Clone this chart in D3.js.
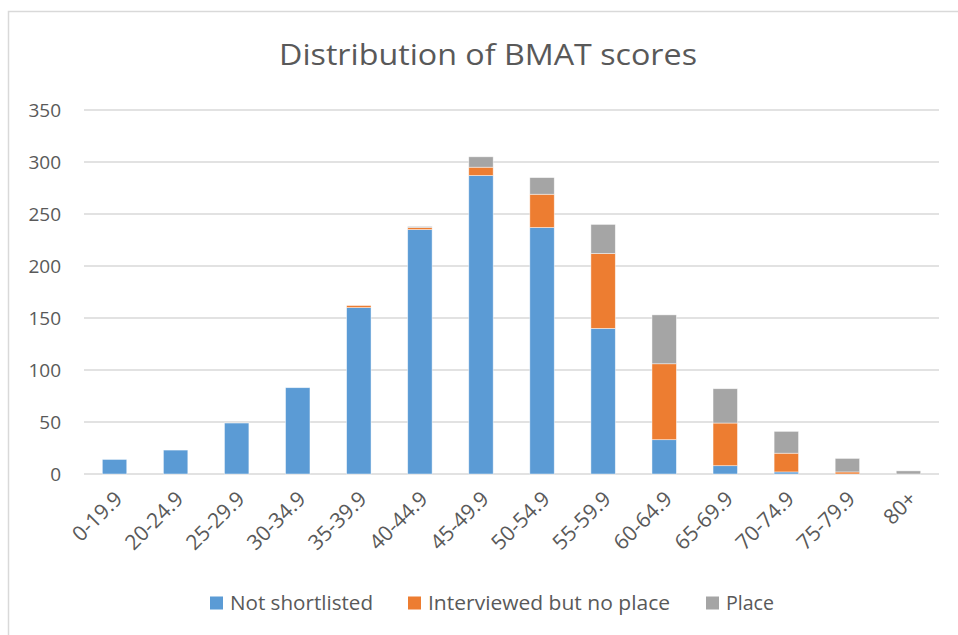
<!DOCTYPE html>
<html>
<head>
<meta charset="utf-8">
<script src="https://cdn.jsdelivr.net/npm/d3@7"></script>
<style>
  body { margin: 0; background: #fff; }
  text { font-family: "Open Sans", "Noto Sans", sans-serif; fill: #595959; }
</style>
</head>
<body>
<svg id="Viz" width="958" height="635"></svg>
<script>
var categories = ["0-19.9", "20-24.9", "25-29.9", "30-34.9", "35-39.9", "40-44.9", "45-49.9",
                  "50-54.9", "55-59.9", "60-64.9", "65-69.9", "70-74.9", "75-79.9", "80+"];
var notShortlisted = [14, 23, 49, 83, 160, 235, 287, 237, 140, 33, 8, 2, 0, 0];
var interviewed    = [0, 0, 0, 0, 2, 2, 8, 32, 72, 73, 41, 18, 2, 0];
var place          = [0, 0, 0, 0, 0, 1, 10, 16, 28, 47, 33, 21, 13, 3];
var seriesNames = ["Not shortlisted", "Interviewed but no place", "Place"];
var yTicks = [0, 50, 100, 150, 200, 250, 300, 350];

var svg = d3.select("#Viz"),
    width = +svg.attr("width"),
    height = +svg.attr("height");

var colors = ["#5B9BD5", "#ED7D31", "#A5A5A5"];
var plotLeft = 84, plotRight = 939, plotTop = 110, plotBottom = 474;

// chart frame (runs off the right/bottom of the page in the original)
svg.append("rect")
  .attr("x", 8.5).attr("y", 11.5)
  .attr("width", 960).attr("height", 640)
  .attr("fill", "none")
  .attr("stroke", "#d9d9d9")
  .attr("stroke-width", 1.5);

svg.append("text")
  .attr("x", 488).attr("y", 65)
  .attr("text-anchor", "middle")
  .attr("font-size", 29)
  .attr("textLength", 418)
  .attr("lengthAdjust", "spacingAndGlyphs")
  .text("Distribution of BMAT scores");

var x = d3.scaleBand()
  .domain(categories)
  .range([plotLeft, plotRight])
  .paddingInner(0.6)
  .paddingOuter(0.3);

var y = d3.scaleLinear()
  .domain([0, 350])
  .range([plotBottom, plotTop]);

// gridlines
svg.append("g")
  .selectAll("line")
  .data(yTicks)
  .enter()
  .append("line")
  .attr("x1", plotLeft).attr("x2", plotRight)
  .attr("y1", function(d) { return y(d); })
  .attr("y2", function(d) { return y(d); })
  .attr("stroke", "#d9d9d9")
  .attr("stroke-width", 1.5);

// y axis labels
var yAxis = svg.append("g")
  .attr("transform", "translate(" + (plotLeft - 16) + ",0)")
  .call(d3.axisLeft(y).tickValues(yTicks).tickSize(0).tickPadding(7));
yAxis.select(".domain").remove();
yAxis.selectAll("text")
  .attr("font-size", 19)
  .attr("font-family", "'Open Sans', sans-serif")
  .attr("fill", "#595959");

// stacked bars
var table = categories.map(function(c, i) {
  return { cat: c, s0: notShortlisted[i], s1: interviewed[i], s2: place[i] };
});
var stack = d3.stack().keys(["s0", "s1", "s2"]);
var layers = stack(table);

svg.append("g")
  .selectAll("g")
  .data(layers)
  .enter()
  .append("g")
  .attr("fill", function(d, i) { return colors[i]; })
  .selectAll("rect")
  .data(function(d) { return d; })
  .enter()
  .append("rect")
  .attr("x", function(d) { return x(d.data.cat); })
  .attr("width", x.bandwidth())
  .attr("y", function(d) { return y(d[1]); })
  .attr("height", function(d) { return y(d[0]) - y(d[1]); })
  .attr("stroke", "#ffffff")
  .attr("stroke-opacity", 0.6)
  .attr("stroke-width", 0.75);

// x axis labels, rotated
var xAxis = svg.append("g")
  .attr("transform", "translate(0," + plotBottom + ")")
  .call(d3.axisBottom(x).tickSize(0).tickPadding(0));
xAxis.select(".domain").remove();
xAxis.selectAll("text")
  .attr("font-size", 21)
  .attr("font-family", "'Open Sans', sans-serif")
  .attr("fill", "#595959")
  .attr("text-anchor", "end")
  .attr("dy", "0.35em")
  .attr("transform", "translate(4,21) rotate(-45)");

// legend
var legendX = [210, 408, 706];
var legendLen = [143, 242, 48];
var legend = svg.append("g")
  .selectAll("g")
  .data(seriesNames)
  .enter()
  .append("g")
  .attr("transform", function(d, i) { return "translate(" + legendX[i] + ",603)"; });

legend.append("rect")
  .attr("x", 0).attr("y", -6.5)
  .attr("width", 13).attr("height", 13)
  .attr("fill", function(d, i) { return colors[i]; });

legend.append("text")
  .attr("x", 20)
  .attr("dy", "0.35em")
  .attr("font-size", 20)
  .attr("textLength", function(d, i) { return legendLen[i]; })
  .attr("lengthAdjust", "spacingAndGlyphs")
  .text(function(d) { return d; });
</script>
</body>
</html>
